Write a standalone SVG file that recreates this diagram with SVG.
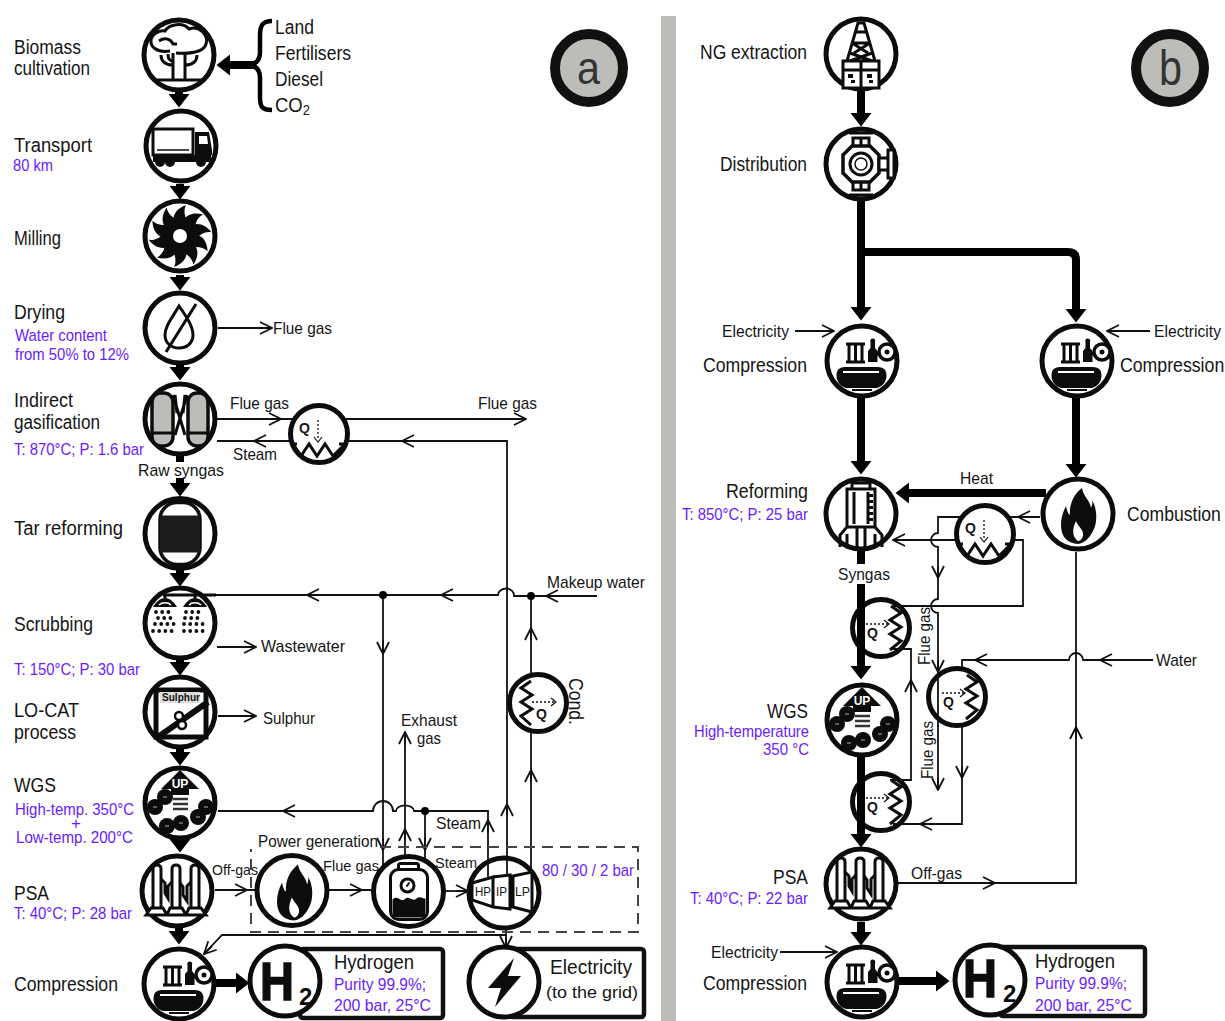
<svg xmlns="http://www.w3.org/2000/svg" width="1225" height="1021" viewBox="0 0 1225 1021">
<style>
text{font-family:"Liberation Sans",Arial,sans-serif;fill:#151515}
.b{font-size:20px}
.s{font-size:17px}
.x{font-size:15px}
.p{font-size:17px;fill:#6a1cff}
.c{fill:#fff;stroke:#0c0c0c;stroke-width:5}
.t{fill:none;stroke:#111;stroke-width:1.8}
.a{fill:none;stroke:#111;stroke-width:1.8;marker-end:url(#o)}
.k{fill:none;stroke:#000;stroke-width:8}
.ka{fill:none;stroke:#000;stroke-width:8;marker-end:url(#k)}
.i{fill:none;stroke:#0c0c0c;stroke-width:3}
.f{fill:#0c0c0c;stroke:none}
.w{fill:#fff;stroke:#0c0c0c;stroke-width:3}
.g{fill:#bcbdb8;stroke:#0c0c0c;stroke-width:3.5}
.box{fill:#fff;stroke:#111;stroke-width:4.5}
</style>
<defs>
<marker id="o" viewBox="-13 -7 14 14" refX="0" refY="0" markerWidth="14" markerHeight="14" markerUnits="userSpaceOnUse" orient="auto"><path d="M-12,-6 L0,0 L-12,6" fill="none" stroke="#111" stroke-width="1.8"/></marker>
<marker id="k" viewBox="0 -11 14 22" refX="1" refY="0" markerWidth="14" markerHeight="22" markerUnits="userSpaceOnUse" orient="auto"><path d="M0,-10.500 L13.500,0 L0,10.500Z" fill="#000"/></marker>
<path id="bl" d="M-7,-14 C-7,-23 -2,-28 6,-31 C3,-25 5,-19 8,-13Z"/>
<g id="comp">
<path class="f" d="M-25,11 C-24,7 -20,6 -16,6 H14 C19,6 23,7 24,11 C26,18 22,25 15,27 H-16 C-23,25 -27,18 -25,11Z"/>
<path d="M-19,11 H17" stroke="#fff" stroke-width="2" fill="none"/>
<path d="M-10,29 H10" stroke="#0c0c0c" stroke-width="2" fill="none"/>
<path class="i" stroke-width="2.500" d="M-16,-17 H3 M-16,1 H3 M-13,-17 V1 M-6.500,-17 V1 M0,-17 V1"/>
<path class="f" d="M6,1 V-10 L8.500,-13 V-19 A2.500,2.500 0 1 1 13,-19 V-13 L15.500,-10 V1Z"/>
<circle cx="25" cy="-9" r="8" fill="#fff" stroke="#0c0c0c" stroke-width="3.500"/><circle cx="25" cy="-9" r="2.500" fill="#0c0c0c"/>
<path class="i" d="M14,-7 L18,-8"/>
</g>
<g id="wgs">
<path class="f" d="M0,-33 L19,-14 H9 V-8 H-9 V-14 H-19Z"/>
<text x="0" y="-15" text-anchor="middle" font-size="12" font-weight="700" style="fill:#fff">UP</text>
<path d="M-7,-4 H8 M-7,1 H8 M-7,6 H8" fill="none" stroke="#333" stroke-width="2.500"/>
<g class="f">
<circle cx="-25" cy="4" r="8"/><circle cx="-15" cy="-6" r="8"/>
<circle cx="26" cy="4" r="8"/><circle cx="18" cy="14" r="8"/>
<circle cx="-13" cy="23" r="8"/><circle cx="1" cy="20" r="8"/>
</g>
<path d="M-27,4 h4 M-17,-6 h4 M24,4 h4 M16,14 h4 M-15,23 h4 M-1,20 h4" fill="none" stroke="#777" stroke-width="1.500"/>
</g>
<g id="psa">
<path class="w" stroke-width="2.200" d="M-24,18 V-22 Q-24,-26 -20,-26 Q-16,-26 -16,-22 V18Z M-5,18 V-22 Q-5,-26 -1,-26 Q3,-26 3,-22 V18Z M14,18 V-22 Q14,-26 18,-26 Q22,-26 22,-22 V18Z"/>
<path class="i" stroke-width="1.800" d="M-16,-12 L-12,-8 V2 L-9,7 V-5 L-5,-9 M3,-8 L6,-4 V4 L10,10 V-5 L14,-9"/>
<path class="w" stroke-width="2.200" d="M-31,24 L-26,17 H-14 L-10,24 Z M-10,24 L-7,17 H5 L9,24 Z M9,24 L12,17 H24 L29,24 Z"/>
</g>
<g id="fire"><path class="f" d="M6,-26 C8,-16 14,-14 15,-6 C16,-9 17,-11 16,-14 C21,-6 22,8 17,17 C13,25 8,29 2,30 C-8,29 -15,24 -15,11 C-15,4 -13,-2 -10,-8 C-9,-3 -8,0 -6,1 C-7,-10 -2,-20 6,-26Z"/><path d="M2,27 C-4,23 -4,15 0,7 C2,13 8,15 7,22 C6,25 4,27 2,27Z" fill="#fff"/></g>
<g id="zz-b"><path class="i" d="M-26,10 L-18,22 L-10,10 L-2,22 L6,10 L14,22 L26,10 M-28,10 H-22 M20,10 H28" stroke-width="3"/><text x="-20" y="-1" font-size="14" font-weight="700">Q</text><path d="M-1,-14 V6" fill="none" stroke="#111" stroke-width="1.300" stroke-dasharray="2 2"/><path d="M-5,3 L-1,8 L3,3" fill="none" stroke="#111" stroke-width="1.200"/></g>
<g id="zz-r"><path class="i" d="M10,-22 L20,-15 L9,-8 L20,-1 L9,6 L20,13 L9,22" stroke-width="3"/><text x="-14" y="10" font-size="14" font-weight="700">Q</text><path d="M-15,-4 H8" fill="none" stroke="#111" stroke-width="1.300" stroke-dasharray="2 2"/><path d="M3,-8 L8,-4 L3,0" fill="none" stroke="#111" stroke-width="1.200"/></g>
</defs>
<rect width="1225" height="1021" fill="#fff"/>
<rect x="661" y="16" width="15" height="1005" fill="#bcbdb8"/>

<g id="labels-a">
<text class="b" x="14" y="54" textLength="67" lengthAdjust="spacingAndGlyphs">Biomass</text>
<text class="b" x="14" y="75" textLength="76" lengthAdjust="spacingAndGlyphs">cultivation</text>
<text class="b" x="14" y="152" textLength="78" lengthAdjust="spacingAndGlyphs">Transport</text>
<text class="p" x="13" y="171" textLength="40" lengthAdjust="spacingAndGlyphs">80 km</text>
<text class="b" x="14" y="245" textLength="47" lengthAdjust="spacingAndGlyphs">Milling</text>
<text class="b" x="14" y="319" textLength="51" lengthAdjust="spacingAndGlyphs">Drying</text>
<text class="p" x="15" y="341" textLength="92" lengthAdjust="spacingAndGlyphs">Water content</text>
<text class="p" x="15" y="360" textLength="114" lengthAdjust="spacingAndGlyphs">from 50% to 12%</text>
<text class="b" x="14" y="407" textLength="59" lengthAdjust="spacingAndGlyphs">Indirect</text>
<text class="b" x="14" y="429" textLength="86" lengthAdjust="spacingAndGlyphs">gasification</text>
<text class="p" x="14" y="455" textLength="130" lengthAdjust="spacingAndGlyphs">T: 870°C; P: 1.6 bar</text>
<text class="b" x="14" y="535" textLength="109" lengthAdjust="spacingAndGlyphs">Tar reforming</text>
<text class="b" x="14" y="631" textLength="79" lengthAdjust="spacingAndGlyphs">Scrubbing</text>
<text class="p" x="14" y="675" textLength="126" lengthAdjust="spacingAndGlyphs">T: 150°C; P: 30 bar</text>
<text class="b" x="14" y="717" textLength="65" lengthAdjust="spacingAndGlyphs">LO-CAT</text>
<text class="b" x="14" y="739" textLength="62" lengthAdjust="spacingAndGlyphs">process</text>
<text class="b" x="14" y="792" textLength="42" lengthAdjust="spacingAndGlyphs">WGS</text>
<text class="p" x="15" y="815" textLength="119" lengthAdjust="spacingAndGlyphs">High-temp. 350°C</text>
<text class="p" x="71" y="829">+</text>
<text class="p" x="16" y="843" textLength="117" lengthAdjust="spacingAndGlyphs">Low-temp. 200°C</text>
<text class="b" x="14" y="900" textLength="35" lengthAdjust="spacingAndGlyphs">PSA</text>
<text class="p" x="14" y="919" textLength="118" lengthAdjust="spacingAndGlyphs">T: 40°C; P: 28 bar</text>
<text class="b" x="14" y="991" textLength="104" lengthAdjust="spacingAndGlyphs">Compression</text>
<text class="b" x="275" y="34" textLength="39" lengthAdjust="spacingAndGlyphs">Land</text>
<text class="b" x="275" y="60" textLength="76" lengthAdjust="spacingAndGlyphs">Fertilisers</text>
<text class="b" x="275" y="86" textLength="48" lengthAdjust="spacingAndGlyphs">Diesel</text>
<text class="b" x="275" y="112" textLength="35" lengthAdjust="spacingAndGlyphs">CO<tspan font-size="14" dy="3">2</tspan></text>
<text class="s" x="273" y="334" textLength="59" lengthAdjust="spacingAndGlyphs">Flue gas</text>
<text class="s" x="230" y="409" textLength="59" lengthAdjust="spacingAndGlyphs">Flue gas</text>
<text class="s" x="233" y="460" textLength="44" lengthAdjust="spacingAndGlyphs">Steam</text>
<text class="s" x="138" y="476" textLength="86" lengthAdjust="spacingAndGlyphs">Raw syngas</text>
<text class="s" x="478" y="409" textLength="59" lengthAdjust="spacingAndGlyphs">Flue gas</text>
<text class="s" x="547" y="588" textLength="98" lengthAdjust="spacingAndGlyphs">Makeup water</text>
<text class="s" x="261" y="652" textLength="84" lengthAdjust="spacingAndGlyphs">Wastewater</text>
<text class="s" x="263" y="724" textLength="52" lengthAdjust="spacingAndGlyphs">Sulphur</text>
<text class="s" x="401" y="726" textLength="56" lengthAdjust="spacingAndGlyphs">Exhaust</text>
<text class="s" x="417" y="744" textLength="24" lengthAdjust="spacingAndGlyphs">gas</text>
<text class="s" x="258" y="847" textLength="120" lengthAdjust="spacingAndGlyphs">Power generation</text>
<text class="s" x="436" y="829" textLength="45" lengthAdjust="spacingAndGlyphs">Steam</text>
<text class="x" x="212" y="875" textLength="46" lengthAdjust="spacingAndGlyphs">Off-gas</text>
<text class="x" x="323" y="871" textLength="56" lengthAdjust="spacingAndGlyphs">Flue gas</text>
<text class="x" x="435" y="868" textLength="42" lengthAdjust="spacingAndGlyphs">Steam</text>
<text class="p" x="542" y="876" textLength="92" lengthAdjust="spacingAndGlyphs">80 / 30 / 2 bar</text>
<text class="b" transform="translate(569,678) rotate(90)" textLength="47" lengthAdjust="spacingAndGlyphs">Cond.</text>
</g>

<g id="labels-b">
<text class="b" x="700" y="59" textLength="107" lengthAdjust="spacingAndGlyphs">NG extraction</text>
<text class="b" x="720" y="171" textLength="87" lengthAdjust="spacingAndGlyphs">Distribution</text>
<text class="s" x="722" y="337" textLength="67" lengthAdjust="spacingAndGlyphs">Electricity</text>
<text class="b" x="703" y="372" textLength="104" lengthAdjust="spacingAndGlyphs">Compression</text>
<text class="s" x="1154" y="337" textLength="67" lengthAdjust="spacingAndGlyphs">Electricity</text>
<text class="b" transform="translate(1120,372) scale(.885,1)">Compression</text>
<text class="b" x="726" y="498" textLength="82" lengthAdjust="spacingAndGlyphs">Reforming</text>
<text class="p" x="682" y="520" textLength="126" lengthAdjust="spacingAndGlyphs">T: 850°C; P: 25 bar</text>
<text class="s" x="960" y="484" textLength="33" lengthAdjust="spacingAndGlyphs">Heat</text>
<text class="b" transform="translate(1127,521) scale(.88,1)">Combustion</text>
<text class="s" x="838" y="580" textLength="52" lengthAdjust="spacingAndGlyphs">Syngas</text>
<text class="b" x="767" y="718" textLength="41" lengthAdjust="spacingAndGlyphs">WGS</text>
<text class="p" x="694" y="737" textLength="115" lengthAdjust="spacingAndGlyphs">High-temperature</text>
<text class="p" x="763" y="755" textLength="46" lengthAdjust="spacingAndGlyphs">350 °C</text>
<text class="s" x="1156" y="666" textLength="41" lengthAdjust="spacingAndGlyphs">Water</text>
<text class="s" transform="translate(930,665) rotate(-90)" textLength="58" lengthAdjust="spacingAndGlyphs">Flue gas</text>
<text class="s" transform="translate(933,779) rotate(-90)" textLength="58" lengthAdjust="spacingAndGlyphs">Flue gas</text>
<text class="b" x="773" y="884" textLength="35" lengthAdjust="spacingAndGlyphs">PSA</text>
<text class="p" x="690" y="904" textLength="118" lengthAdjust="spacingAndGlyphs">T: 40°C; P: 22 bar</text>
<text class="s" x="911" y="879" textLength="51" lengthAdjust="spacingAndGlyphs">Off-gas</text>
<text class="s" x="711" y="958" textLength="67" lengthAdjust="spacingAndGlyphs">Electricity</text>
<text class="b" x="703" y="990" textLength="104" lengthAdjust="spacingAndGlyphs">Compression</text>
</g>

<g id="badge-a"><circle cx="589" cy="68" r="34" fill="#bcbdb8" stroke="#111" stroke-width="10"/><text x="577" y="84" font-size="46" textLength="23" lengthAdjust="spacingAndGlyphs" style="fill:#333">a</text></g>
<g id="badge-b"><circle cx="1170" cy="68" r="34" fill="#bcbdb8" stroke="#111" stroke-width="10"/><text x="1159" y="85" font-size="50" textLength="23" lengthAdjust="spacingAndGlyphs" style="fill:#333">b</text></g>

<g id="box-hydrogen-a"><rect class="box" x="300" y="949" width="143" height="69" rx="3"/>
<text class="b" x="334" y="969" textLength="80" lengthAdjust="spacingAndGlyphs">Hydrogen</text>
<text class="p" x="334" y="990" textLength="92" lengthAdjust="spacingAndGlyphs">Purity 99.9%;</text>
<text class="p" x="334" y="1011" textLength="97" lengthAdjust="spacingAndGlyphs">200 bar, 25°C</text></g>
<g id="box-electricity"><rect class="box" x="510" y="949" width="134" height="68" rx="3"/>
<text class="b" x="550" y="974" textLength="82" lengthAdjust="spacingAndGlyphs">Electricity</text>
<text class="s" x="546" y="998" textLength="92" lengthAdjust="spacingAndGlyphs">(to the grid)</text></g>
<g id="box-hydrogen-b"><rect class="box" x="1000" y="947" width="145" height="69" rx="3"/>
<text class="b" x="1035" y="968" textLength="80" lengthAdjust="spacingAndGlyphs">Hydrogen</text>
<text class="p" x="1035" y="989" textLength="92" lengthAdjust="spacingAndGlyphs">Purity 99.9%;</text>
<text class="p" x="1035" y="1011" textLength="97" lengthAdjust="spacingAndGlyphs">200 bar, 25°C</text></g>

<g id="n-turbine" transform="translate(504,893)"><circle class="c" r="35"/>
<path class="w" d="M-32,-10 L-11,-16 V14 L-32,7Z M-11,-16 L6,-18 V16 L-11,14Z M9,-17 L28,-21 V19 L9,14Z" stroke-width="2.500"/>
<text x="-29" y="3" font-size="13" textLength="16" lengthAdjust="spacingAndGlyphs">HP</text><text x="-8" y="3" font-size="13" textLength="11" lengthAdjust="spacingAndGlyphs">IP</text><text x="11" y="3" font-size="13" textLength="15" lengthAdjust="spacingAndGlyphs">LP</text></g>
<g id="n-b-hx2" transform="translate(881,628)"><circle class="c" r="28.500" stroke-width="3.500"/><use href="#zz-r"/></g>
<g id="n-b-hx4" transform="translate(881,802)"><circle class="c" r="28.500" stroke-width="3.500"/><use href="#zz-r"/></g>
<g id="n-b-hx3" transform="translate(957,697)"><circle class="c" r="28.500" stroke-width="3.500"/><use href="#zz-r"/></g>

<g id="connectors">
<path class="t" d="M218,328 H272"/><path class="a" d="M260,328 H272"/>
<path class="t" d="M217,419 H525"/><path class="a" d="M270,419 H281"/><path class="a" d="M515,419 H526"/>
<path class="t" d="M507,876 V441 H217"/><path class="a" d="M410,441 H402"/><path class="a" d="M262,441 H254"/><path class="a" d="M507,815 V804"/>
<path class="t" d="M506,928 V948"/><path class="a" d="M506,938 V948"/>
<path class="t" d="M506,935 H222 L204,954"/><path class="a" d="M212,946 L204,954"/>
<path class="t" d="M597,596 H531 H514 A8,7 0 0 0 498,595 H163"/><path class="a" d="M558,596 H546"/><path class="a" d="M452,595 H441"/><path class="a" d="M318,595 H307"/>
<path class="t" d="M383,595 V866"/><path class="a" d="M383,640 V654"/><path class="a" d="M383,838 V850"/>
<path class="t" d="M531,596 V673"/><path class="a" d="M531,640 V628"/>
<path class="t" d="M531,733 V872"/><path class="a" d="M531,782 V770"/>
<path class="t" d="M405,857 V732"/><path class="a" d="M405,745 V732"/><path class="a" d="M405,840 V829"/>
<path class="t" d="M218,811 H373 A5,5 0 0 1 393,811 H396 A8,5 0 0 1 414,811 H488 V880"/><path class="a" d="M295,811 H283"/><path class="a" d="M488,832 V820"/>
<path class="t" d="M425,811 V858"/><path class="a" d="M425,838 V850"/>
<circle cx="383" cy="595" r="4" fill="#000"/><circle cx="531" cy="596" r="4" fill="#000"/><circle cx="425" cy="811" r="4" fill="#000"/>
<path class="t" d="M217,647 H256"/><path class="a" d="M245,647 H256"/>
<path class="t" d="M218,716 H256"/><path class="a" d="M245,716 H256"/>
<path class="t" d="M215,890 H255"/><path class="a" d="M235,890 H247"/>
<path class="t" d="M329,890 H372"/><path class="a" d="M350,890 H362"/>
<path class="t" d="M445,891 H468"/><path class="a" d="M456,891 H468"/>
<path class="k" d="M255,65 H230" stroke-width="6"/><path class="ka" d="M230,65 H229"/>
<path fill="none" stroke="#000" stroke-width="4.500" d="M272,21 C262,21 260,26 260,36 V52 C260,60 256,64 250,65 C256,66 260,70 260,78 V97 C260,107 262,110 272,110"/>
<path class="ka" d="M179,92 V95"/><path class="ka" d="M180,184 V187"/><path class="ka" d="M180,275 V278"/><path class="ka" d="M180,364 V368"/>
<path class="k" d="M180,456 V462"/><path class="ka" d="M180,478 V484"/>
<path class="ka" d="M180,569 V574"/><path class="ka" d="M180,660 V663"/><path class="ka" d="M180,749 V753"/><path class="ka" d="M180,836 V840"/>
<path class="ka" d="M179,924 V932"/><path class="ka" d="M216,983 H237"/>
<path class="ka" d="M861,90 V114"/><path class="ka" d="M861,200 V308"/>
<path class="k" d="M861,252 H1068 Q1076,252 1076,260 V310"/><path class="ka" d="M1076,300 V310"/>
<path class="ka" d="M861,398 V462"/><path class="ka" d="M1076,388 V465"/>
<path class="ka" d="M1046,493 H908"/>
<path class="k" d="M861,550 V564"/><path class="ka" d="M861,584 V667"/>
<path class="ka" d="M861,756 V835"/><path class="ka" d="M861,922 V933"/>
<path class="ka" d="M898,981 H937"/>
<path class="t" d="M795,331 H833"/><path class="a" d="M822,331 H834"/>
<path class="t" d="M1150,331 H1107"/><path class="a" d="M1119,331 H1107"/>
<path class="t" d="M780,952 H836"/><path class="a" d="M825,952 H837"/>
<path class="t" d="M1040,517 H938 V533 A7,7 0 0 0 938,547 V599 A7,7 0 0 0 938,613 V790"/>
<path class="a" d="M1031,517 H1018"/><path class="a" d="M938,566 V578"/><path class="a" d="M938,660 V672"/><path class="a" d="M938,778 V790"/>
<path class="t" d="M893,606 H1023 V540 H893"/><path class="a" d="M905,540 H893"/>
<path class="t" d="M893,649 H911 V780 H890"/><path class="a" d="M911,692 V680"/>
<path class="t" d="M1153,660 H1083 A7,7 0 0 0 1069,660 H962 V668 M962,727 V824 H893"/><path class="a" d="M1112,660 H1100"/><path class="a" d="M987,660 H975"/><path class="a" d="M962,766 V778"/><path class="a" d="M932,824 H920"/>
<path class="t" d="M898,883 H1076 V552"/><path class="a" d="M983,883 H995"/><path class="a" d="M1076,739 V727"/>
</g>

<path id="power-generation-box" d="M380,847 H638 V932 H251 V849" fill="none" stroke="#444" stroke-width="2" stroke-dasharray="11 7"/>

<g id="n-biomass" transform="translate(179,55)"><circle class="c" r="35"/>
<path class="i" d="M-9,-4 C-22,-2 -29,-8 -28,-15 C-27,-21 -20,-25 -14,-24 C-10,-31 4,-33 10,-26 C20,-30 30,-20 27,-11 C25,-4 14,-1 -3,-2 M-20,-14 C-14,-18 -8,-16 -6,-11 H-2"/>
<path class="i" d="M-6,-2 V25 M6,-2 V25 M-24,25 H24 M-6,10 C-14,10 -18,6 -18,0 M-6,6 C-10,6 -11,3 -11,-1 M6,10 C14,10 18,6 18,0"/></g>
<g id="n-transport" transform="translate(181,146)"><circle class="c" r="35"/>
<rect x="-28" y="-17" width="40" height="26" class="w"/>
<path class="f" d="M-28,9 H30 V16 H-28Z M14,-14 H28 L31,4 V9 H14Z"/><path d="M18,-10 H26 L27,-2 H18Z" fill="#fff"/><path d="M-24,4 H8" stroke="#0c0c0c" stroke-width="1.500"/>
<g class="f" stroke="#fff"><circle cx="-21" cy="16" r="5"/><circle cx="-11" cy="16" r="5"/><circle cx="20" cy="16" r="5"/></g></g>
<g id="n-milling" transform="translate(180,236)"><circle class="c" r="35"/>
<g class="f"><circle r="17"/><use href="#bl"/><use href="#bl" transform="rotate(36)"/><use href="#bl" transform="rotate(72)"/><use href="#bl" transform="rotate(108)"/><use href="#bl" transform="rotate(144)"/><use href="#bl" transform="rotate(180)"/><use href="#bl" transform="rotate(216)"/><use href="#bl" transform="rotate(252)"/><use href="#bl" transform="rotate(288)"/><use href="#bl" transform="rotate(324)"/></g><circle r="7" fill="#fff"/></g>
<g id="n-drying" transform="translate(180,328)"><circle class="c" r="35"/>
<path class="i" stroke-width="2.500" d="M-1,-22 C-8,-10 -15,-2 -15,7 C-15,15 -9,20 -1,20 C8,20 13,14 13,7 C13,-2 6,-12 -1,-22Z M-14,24 L16,-24"/></g>
<g id="n-gasification" transform="translate(180,419)"><circle class="c" r="35"/>
<rect class="g" x="-28" y="-26" width="21" height="53" rx="9"/><rect class="g" x="8" y="-26" width="20" height="53" rx="9"/>
<path class="i" stroke-width="1.500" d="M-28,14 H-7 M8,14 H28 M-7,-24 L5,16 M7,-24 L-5,16 M-5,-24 L-3,-6 M5,-24 L3,-6"/></g>
<g id="n-tar" transform="translate(180,533.500)"><circle class="c" r="35"/>
<rect x="-20" y="-31" width="40" height="62" rx="17" fill="#fff" stroke="#0c0c0c" stroke-width="3.500"/><rect x="-20" y="-18" width="40" height="37" fill="#1c1c1c"/></g>
<g id="n-scrubbing" transform="translate(180,623)"><circle class="c" r="35"/>
<path class="i" stroke-width="2" d="M-17,-28 H36 M-15,-28 V-25 M15,-28 V-25"/>
<path class="f" d="M-27,-16 C-24,-21 -20,-25 -15,-25 C-10,-25 -6,-21 -3,-16Z M3,-16 C6,-21 10,-25 15,-25 C20,-25 24,-21 27,-16Z"/><path d="M-21,-18 C-18,-21 -12,-21 -9,-18 M9,-18 C12,-21 18,-21 21,-18" fill="none" stroke="#fff" stroke-width="1.500"/>
<g fill="none" stroke="#111" stroke-width="3.800" stroke-linecap="round" stroke-dasharray="0 6.200"><path d="M-24,-11 H-6 M6,-11 H24 M-22,-5 H-5 M5,-5 H22 M-25,1 H-4 M4,1 H25 M-27,8 H-4 M4,8 H27"/></g></g>
<g id="n-locat" transform="translate(180,712)"><circle class="c" r="35"/>
<rect x="-24" y="-22" width="50" height="47" fill="#fff" stroke="#0c0c0c" stroke-width="5"/><rect x="-20" y="-20" width="40" height="11" fill="#ddd"/>
<text x="-18" y="-11" font-size="11" font-weight="700" textLength="38" lengthAdjust="spacingAndGlyphs">Sulphur</text>
<path d="M-22,25 L28,-10" stroke="#0c0c0c" stroke-width="6" fill="none"/><circle cx="-1" cy="4" r="4" fill="#fff" stroke="#0c0c0c" stroke-width="2.500"/><circle cx="2" cy="13" r="4" fill="#fff" stroke="#0c0c0c" stroke-width="2.500"/></g>
<g id="n-wgs" transform="translate(180,803)"><circle class="c" r="35"/><use href="#wgs"/></g>
<g id="n-psa" transform="translate(177,891)"><circle class="c" r="35"/><use href="#psa"/></g>
<g id="n-compression" transform="translate(179,984)"><circle class="c" r="35"/><use href="#comp"/></g>
<g id="n-h2" transform="translate(285,981)"><circle class="c" r="35" stroke-width="9"/><text x="-25" y="19" font-size="53" font-weight="700" textLength="34" lengthAdjust="spacingAndGlyphs" style="fill:#0c0c0c;stroke:#0c0c0c;stroke-width:1.500">H</text><text x="14" y="24" font-size="24" font-weight="700" style="fill:#0c0c0c">2</text></g>
<g id="n-fire" transform="translate(292,890.500)"><circle class="c" r="35"/><use href="#fire"/></g>
<g id="n-boiler" transform="translate(408.500,891.500)"><circle class="c" r="35"/>
<rect x="-10" y="-28" width="20" height="6" rx="2" fill="#fff" stroke="#0c0c0c" stroke-width="3"/>
<rect x="-18" y="-22" width="37" height="50" rx="8" fill="#fff" stroke="#0c0c0c" stroke-width="3"/>
<path class="f" d="M-16,8 C-11,3 -8,11 -4,8 C0,3 4,11 8,7 C11,4 14,7 17,7 V22 Q17,26 12,26 H-11 Q-16,26 -16,22Z"/>
<circle cx="-1" cy="-6" r="6.500" fill="#fff" stroke="#0c0c0c" stroke-width="3"/><path d="M-2,-5 L1,-9" stroke="#0c0c0c" stroke-width="2" fill="none"/></g>
<g id="n-electricity" transform="translate(504,982)"><circle class="c" r="35"/><path class="f" d="M10,-24 L-16,6 H-3 L-9,25 L17,-6 H4Z"/></g>
<g id="n-cond" transform="translate(538,703)"><circle class="c" r="28.500" stroke-width="3.500"/>
<path class="i" d="M-7,-22 L-17,-15 L-6,-8 L-17,-1 L-6,6 L-17,13 L-7,22"/><text x="-2" y="16" font-size="14" font-weight="700">Q</text><path d="M-6,-1 H18" fill="none" stroke="#111" stroke-width="1.300" stroke-dasharray="2 2"/><path d="M13,-5 L18,-1 L13,3" fill="none" stroke="#111" stroke-width="1.200"/></g>
<g id="n-a-hx" transform="translate(319,434)"><circle class="c" r="28.500" stroke-width="3.500"/><use href="#zz-b"/></g>

<g id="n-ng" transform="translate(861,54)"><circle class="c" r="35" stroke-width="4"/>
<path class="i" stroke-width="2.500" d="M-3,-31 H3 L14,7 H-14Z M-5,-22 H5 M-8,-11 H8 M-11,-1 L11,7 M11,-1 L-11,7 M-9,-11 L7,-1 M9,-11 L-7,-1"/>
<rect x="-18" y="7" width="36" height="27" fill="#fff" stroke="#0c0c0c" stroke-width="3"/><path class="i" d="M-18,16 H18 M0,7 V34" stroke-width="2.500"/>
<path class="f" d="M-13,20 h5 v4 h-5Z M6,20 h5 v4 h-5Z M-10,26 h4 v3 h-4Z M8,26 h4 v3 h-4Z"/></g>
<g id="n-distribution" transform="translate(861,164)"><circle class="c" r="35" stroke-width="4"/>
<path class="w" d="M-8,-26 H8 V-14 H-8Z M-8,14 H8 V26 H-8Z" stroke-width="2.500"/><path class="i" d="M-12,-31 H12 M-12,31 H12 M0,-26 V-14 M0,14 V26"/>
<path d="M-9,-18 H9 L18,-9 V9 L9,18 H-9 L-18,9 V-9Z" fill="#fff" stroke="#0c0c0c" stroke-width="3.500"/><circle r="11" fill="#fff" stroke="#0c0c0c" stroke-width="3"/><circle r="6" fill="#fff" stroke="#0c0c0c" stroke-width="1.500"/>
<path class="w" d="M18,-6 H27 V6 H18Z M27,-14 H33 V14 H27Z" stroke-width="2.500"/></g>
<g id="n-b-comp1" transform="translate(862,361)"><circle class="c" r="35"/><use href="#comp"/></g>
<g id="n-b-comp2" transform="translate(1077,361)"><circle class="c" r="35"/><use href="#comp"/></g>
<g id="n-reforming" transform="translate(861,514)"><circle class="c" r="35"/>
<path class="i" stroke-width="2.500" d="M-9,-31 H9 V-25 H-9Z M-14,-25 H14 V13 H-14Z M-7,-22 V10 M7,-22 V10 M-14,13 L-21,21 V33 M14,13 L21,21 V33 M-14,20 V33 M14,20 V33 M-4,13 V34 M4,13 V34"/>
<path class="f" d="M8,-20 h4 v3 h-4Z M8,-14 h4 v3 h-4Z M8,-8 h4 v3 h-4Z M8,-2 h4 v3 h-4Z M8,4 h4 v3 h-4Z"/></g>
<g id="n-combustion" transform="translate(1078,514)"><circle class="c" r="35"/><use href="#fire" transform="translate(-2,0)"/></g>
<g id="n-b-hx1" transform="translate(985,534)"><circle class="c" r="28.500" stroke-width="3.500"/><use href="#zz-b"/></g>
<g id="n-b-wgs" transform="translate(862,720)"><circle class="c" r="35"/><use href="#wgs"/></g>
<g id="n-b-psa" transform="translate(861,884)"><circle class="c" r="35"/><use href="#psa"/></g>
<g id="n-b-comp3" transform="translate(862,982)"><circle class="c" r="35"/><use href="#comp"/></g>
<g id="n-b-h2" transform="translate(990,980)"><circle class="c" r="35" stroke-width="9"/><text x="-27" y="17" font-size="53" font-weight="700" textLength="34" lengthAdjust="spacingAndGlyphs" style="fill:#0c0c0c;stroke:#0c0c0c;stroke-width:1.500">H</text><text x="13" y="22" font-size="24" font-weight="700" style="fill:#0c0c0c">2</text></g>
</svg>
